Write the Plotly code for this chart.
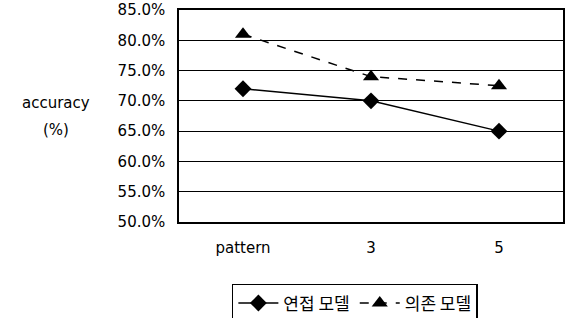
import plotly.graph_objects as go

categories = ["pattern", "3", "5"]
adjacency = [72.0, 70.0, 65.0]
dependency = [81.0, 74.0, 72.5]
names = ["연접 모델", "의존 모델"]

fig = go.Figure()
fig.add_trace(go.Scatter(x=categories, y=adjacency, name=names[0], mode="lines+markers",
                         line=dict(color="black", width=1.5),
                         marker=dict(symbol="diamond", size=13, color="black")))
fig.add_trace(go.Scatter(x=categories, y=dependency, name=names[1], mode="lines+markers",
                         line=dict(color="black", width=1.5, dash="dash"),
                         marker=dict(symbol="triangle-up", size=14, color="black")))

fig.update_layout(
    width=572, height=318,
    margin=dict(l=179, r=9, t=10, b=96, autoexpand=False),
    paper_bgcolor="white", plot_bgcolor="white",
    font=dict(family="DejaVu Sans, sans-serif", size=15, color="black"),
    showlegend=True,
    legend=dict(orientation="h", x=0.458, xanchor="center", y=-0.292, yanchor="top",
                bordercolor="black", borderwidth=1.5, tracegroupgap=0, itemwidth=40,
                font=dict(family="Noto Sans CJK KR", size=17)),
    xaxis=dict(type="category", showgrid=False, showline=True, linecolor="black", linewidth=1.5,
               mirror=True, ticks="", ticklabelstandoff=11, range=[-0.5, 2.5]),
    yaxis=dict(range=[50, 85], dtick=5, tickformat=".1f", ticksuffix="%",
               showgrid=True, gridcolor="black", gridwidth=1,
               showline=True, linecolor="black", linewidth=1.5, mirror=True, ticks="",
               ticklabelstandoff=9),
    annotations=[
        dict(text="accuracy", xref="paper", yref="paper", x=-0.32, y=(222 - 103) / 212,
             showarrow=False, xanchor="center", yanchor="middle"),
        dict(text="(%)", xref="paper", yref="paper", x=-0.32, y=(222 - 130) / 212,
             showarrow=False, xanchor="center", yanchor="middle"),
    ],
)
fig.write_html("out.html", config={"displayModeBar": False},
               post_script="document.body.style.margin='0';document.body.style.overflow='hidden';")
